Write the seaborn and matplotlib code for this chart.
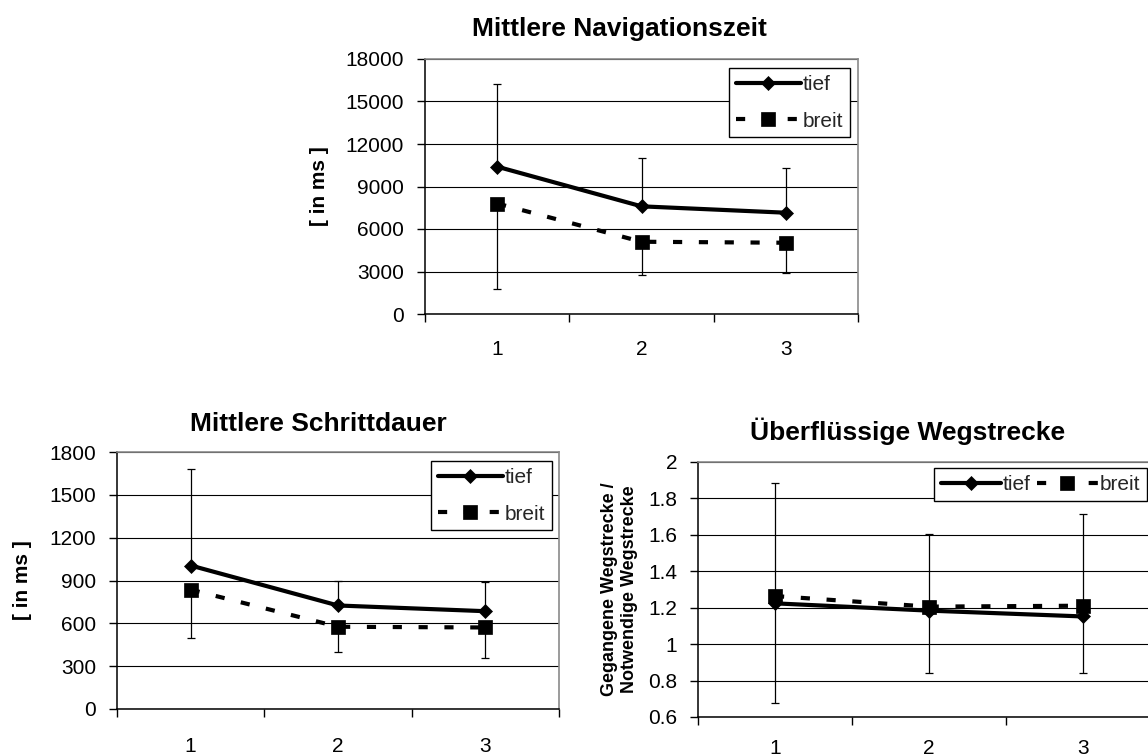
import numpy as np
import pandas as pd
import matplotlib
matplotlib.use("Agg")
import matplotlib.pyplot as plt
import seaborn as sns

# ---------------- data ----------------
categories = ["1", "2", "3"]
series_names = ["tief", "breit"]

nav_title = "Mittlere Navigationszeit"
nav_tief = [10400, 7600, 7150]
nav_breit = [7800, 5100, 5030]
nav_err_upper = [16200, 11000, 10330]   # upper whisker end (tief)
nav_err_lower = [1790, 2780, 2920]      # lower whisker end (breit)
nav_yticks = [0, 3000, 6000, 9000, 12000, 15000, 18000]
nav_yticklabels = ["0", "3000", "6000", "9000", "12000", "15000", "18000"]

step_title = "Mittlere Schrittdauer"
step_tief = [1005, 725, 685]
step_breit = [836, 576, 571]
step_err_upper = [1680, 898, 886]
step_err_lower = [498, 398, 358]
step_yticks = [0, 300, 600, 900, 1200, 1500, 1800]
step_yticklabels = ["0", "300", "600", "900", "1200", "1500", "1800"]

path_title = "Überflüssige Wegstrecke"
path_tief = [1.224, 1.184, 1.152]
path_breit = [1.264, 1.206, 1.211]
path_err_upper = [1.887, 1.605, 1.715]
path_err_lower = [0.679, 0.844, 0.844]
path_yticks = [0.6, 0.8, 1.0, 1.2, 1.4, 1.6, 1.8, 2.0]
path_yticklabels = ["0.6", "0.8", "1", "1.2", "1.4", "1.6", "1.8", "2"]

ms_label = "[ in ms ]"
path_label = "Gegangene Wegstrecke /\nNotwendige Wegstrecke"

# ---------------- style ----------------
sns.set_theme(style="white")
plt.rcParams["font.family"] = ["Liberation Sans", "DejaVu Sans"]
plt.rcParams["axes.edgecolor"] = "black"

W, H = 1148, 756
fig = plt.figure(figsize=(W / 100, H / 100), dpi=100)
fig.patch.set_facecolor("white")


def add_axes_px(left, top, right, bottom):
    return fig.add_axes([left / W, 1 - bottom / H, (right - left) / W, (bottom - top) / H])


def panel(box, tief, breit, upper, lower, yticks, yticklabels, ylabel, ylabel_size,
          ylabel_right_px, xpad, legend_anchor, legend_ncol, handlelength, labelspacing):
    left, top, right, bottom = box
    ax = add_axes_px(left, top, right, bottom)
    ax.set_facecolor("white")
    x = np.arange(len(categories))
    tief = np.asarray(tief, float)
    breit = np.asarray(breit, float)
    upper = np.asarray(upper, float)
    lower = np.asarray(lower, float)

    # error bars (one-sided, as in the original)
    ax.errorbar(x, tief, yerr=[np.zeros_like(tief), upper - tief], fmt="none",
                ecolor="black", elinewidth=0.9, capsize=3, capthick=0.9, zorder=2.6)
    ax.errorbar(x, breit, yerr=[breit - lower, np.zeros_like(breit)], fmt="none",
                ecolor="black", elinewidth=0.9, capsize=3, capthick=0.9, zorder=2.6)

    df_t = pd.DataFrame({"x": x, "y": tief})
    df_b = pd.DataFrame({"x": x, "y": breit})
    sns.lineplot(data=df_t, x="x", y="y", ax=ax, color="black", linewidth=3,
                 marker="D", markersize=7.3, markeredgecolor="black",
                 markerfacecolor="black", markeredgewidth=0.5, label=series_names[0],
                 zorder=3, legend=False)
    sns.lineplot(data=df_b, x="x", y="y", ax=ax, color="black", linewidth=3,
                 linestyle=(0, (2.2, 4.0)), marker="s", markersize=9.5,
                 markeredgecolor="black", markerfacecolor="black",
                 markeredgewidth=0.5, label=series_names[1], zorder=3, legend=False)

    ax.set_xlim(-0.5, len(categories) - 0.5)
    ax.set_ylim(yticks[0], yticks[-1])
    ax.set_yticks(yticks)
    ax.set_yticklabels(yticklabels)
    ax.set_xticks(np.arange(len(categories) + 1) - 0.5)
    ax.set_xticklabels([""] * (len(categories) + 1))
    ax.set_xticks(x, minor=True)
    ax.set_xticklabels(categories, minor=True)
    ax.tick_params(axis="x", which="major", length=5.5, width=1, color="black",
                   direction="out", bottom=True)
    ax.tick_params(axis="x", which="minor", length=0, pad=xpad, labelsize=15,
                   labelcolor="black", bottom=True)
    ax.tick_params(axis="y", which="major", length=5.5, width=1, color="black",
                   direction="out", left=True, pad=9.5, labelsize=15, labelcolor="black")

    ax.yaxis.grid(True, color="black", linewidth=0.8)
    ax.xaxis.grid(False)
    ax.set_axisbelow(True)
    for s in ["left", "bottom"]:
        ax.spines[s].set_color("black")
        ax.spines[s].set_linewidth(1.1)
    for s in ["top", "right"]:
        ax.spines[s].set_color("#8a8a8a")
        ax.spines[s].set_linewidth(1.2)

    ax.set_xlabel("")
    ax.set_ylabel(ylabel, fontsize=ylabel_size, fontweight="bold", color="black")
    ax.yaxis.set_label_coords((ylabel_right_px - left) / (right - left), 0.5)

    leg = ax.legend(loc="upper right", bbox_to_anchor=legend_anchor, ncol=legend_ncol,
                    frameon=True, fancybox=False, edgecolor="black", framealpha=1,
                    fontsize=15, handlelength=handlelength, handletextpad=0.1,
                    borderpad=0.33, labelspacing=labelspacing, columnspacing=0.3,
                    borderaxespad=0.0)
    leg.get_frame().set_linewidth(1.0)
    return ax


# top panel
box1 = (425, 59, 858, 314)
panel(box1, nav_tief, nav_breit, nav_err_upper, nav_err_lower, nav_yticks,
      nav_yticklabels, ms_label, 15, 329, 18.5,
      ((850 - 425) / (858 - 425), 1 - (68 - 59) / (314 - 59)), 1, 3.1, 0.85)

# bottom-left panel
box2 = (117, 452, 559, 709)
panel(box2, step_tief, step_breit, step_err_upper, step_err_lower, step_yticks,
      step_yticklabels, ms_label, 15, 32, 20.5,
      ((552 - 117) / (559 - 117), 1 - (461 - 452) / (709 - 452)), 1, 3.1, 0.85)

# bottom-right panel
box3 = (698, 462, 1160, 717)
panel(box3, path_tief, path_breit, path_err_upper, path_err_lower, path_yticks,
      path_yticklabels, path_label, 13, 638, 15.5,
      ((1147 - 698) / (1160 - 698), 1 - (468 - 462) / (717 - 462)), 2, 2.9, 0.3)

# titles
fig.text(619 / W, 1 - 36 / H, nav_title, ha="center", va="baseline",
         fontsize=19, fontweight="bold", color="black")
fig.text(318 / W, 1 - 431 / H, step_title, ha="center", va="baseline",
         fontsize=19, fontweight="bold", color="black")
fig.text(908 / W, 1 - 440 / H, path_title, ha="center", va="baseline",
         fontsize=19, fontweight="bold", color="black")

fig.savefig("out.png", dpi=100, facecolor="white")
